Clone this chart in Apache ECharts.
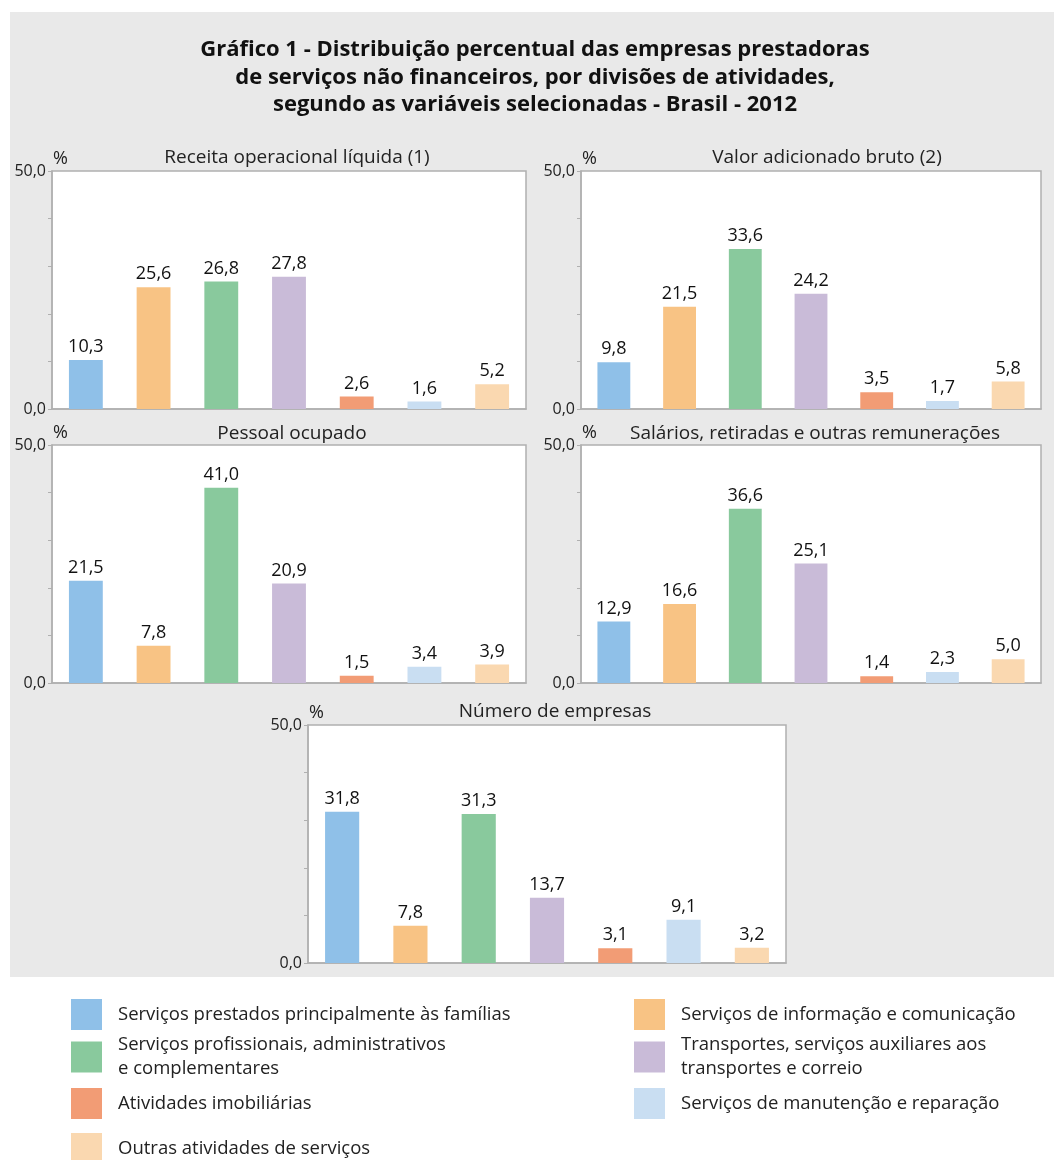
<!DOCTYPE html>
<html>
<head>
    <meta charset="utf-8">
    <title>Gráfico 1</title>
    <script src="https://cdn.jsdelivr.net/npm/echarts@6/dist/echarts.min.js"></script>
    <style>
        body { margin: 0; background: #fff; }
    </style>
</head>
<body>
    <div id="main" style="width:1054px;height:1160px;"></div>
    <script type="text/javascript">
        // categorias (legenda)
        var categorias = [
            'Serviços prestados principalmente às famílias',
            'Serviços de informação e comunicação',
            'Serviços profissionais, administrativos\ne complementares',
            'Transportes, serviços auxiliares aos\ntransportes e correio',
            'Atividades imobiliárias',
            'Serviços de manutenção e reparação',
            'Outras atividades de serviços'
        ];
        var cores = ['#8fc0e8', '#f8c384', '#89c99d', '#c9bbd8', '#f29c75', '#c9def2', '#fad8b0'];

        // valores por painel
        var receita = [10.3, 25.6, 26.8, 27.8, 2.6, 1.6, 5.2];
        var valorAdicionado = [9.8, 21.5, 33.6, 24.2, 3.5, 1.7, 5.8];
        var pessoal = [21.5, 7.8, 41.0, 20.9, 1.5, 3.4, 3.9];
        var salarios = [12.9, 16.6, 36.6, 25.1, 1.4, 2.3, 5.0];
        var empresas = [31.8, 7.8, 31.3, 13.7, 3.1, 9.1, 3.2];

        var paineis = ['Receita operacional líquida (1)', 'Valor adicionado bruto (2)', 'Pessoal ocupado',
            'Salários, retiradas e outras remunerações', 'Número de empresas'];
        var valores = [receita, valorAdicionado, pessoal, salarios, empresas];
        var yTicks = ['0,0', '50,0'];

        // posição de cada painel
        var grids = [
            {left: 52, top: 171, width: 474, height: 238},
            {left: 581, top: 171, width: 460, height: 238},
            {left: 52, top: 445, width: 474, height: 238},
            {left: 581, top: 445, width: 460, height: 238},
            {left: 308, top: 725, width: 478, height: 238}
        ];
        var titulosPos = [[292, 143], [822, 143], [287, 419], [810, 419], [550, 697]];
        var legendaPos = [[71, 999], [634, 999], [71, 1033], [634, 1033], [71, 1088], [634, 1088], [71, 1133]];

        var fonte = '"Open Sans", Roboto, sans-serif';
        var myChart = echarts.init(document.getElementById('main'));

        function fmt(v) {
            return v.toFixed(1).replace('.', ',');
        }

        var titles = [{
            text: 'Gráfico 1 - Distribuição percentual das empresas prestadoras\nde serviços não financeiros, por divisões de atividades,\nsegundo as variáveis selecionadas - Brasil - 2012',
            left: 530, top: 31, textAlign: 'center',
            textStyle: {fontFamily: fonte, fontSize: 22, fontWeight: 'bold', color: '#111', lineHeight: 27.5}
        }];
        var xAxis = [], yAxis = [], series = [], gridList = [];

        for (var g = 0; g < grids.length; g++) {
            gridList.push({
                left: grids[g].left, top: grids[g].top, width: grids[g].width, height: grids[g].height,
                show: true, backgroundColor: '#fff', borderColor: '#b0b0b0', borderWidth: 1.5
            });
            titles.push({
                text: paineis[g], left: titulosPos[g][0], top: titulosPos[g][1], textAlign: 'center',
                textStyle: {fontFamily: fonte, fontSize: 19, fontWeight: 'normal', color: '#222'}
            });
            xAxis.push({
                type: 'category', gridIndex: g, data: [0, 1, 2, 3, 4, 5, 6],
                axisLabel: {show: false}, axisTick: {show: false},
                axisLine: {lineStyle: {color: '#b0b0b0', width: 1.5}}
            });
            yAxis.push({
                type: 'value', gridIndex: g, min: 0, max: 50, interval: 10,
                name: '%', nameLocation: 'end', nameGap: 3,
                nameTextStyle: {fontFamily: fonte, fontSize: 18, color: '#222', align: 'left', padding: [0, 0, 0, 1]},
                splitLine: {show: false},
                axisLine: {show: true, lineStyle: {color: '#b0b0b0', width: 1.5}},
                axisTick: {show: true, length: 4, lineStyle: {color: '#b0b0b0'}},
                axisLabel: {
                    fontFamily: fonte, fontSize: 16, color: '#222', margin: 6,
                    formatter: function (v) {
                        if (v === 0) return yTicks[0];
                        if (v === 50) return yTicks[1];
                        return '';
                    }
                }
            });
            for (var j = 0; j < categorias.length; j++) {
                series.push({
                    name: categorias[j], type: 'bar', xAxisIndex: g, yAxisIndex: g,
                    barWidth: '50%', barGap: '-100%',
                    itemStyle: {color: cores[j]},
                    label: {
                        show: true, position: 'top', distance: 4,
                        fontFamily: fonte, fontSize: 18, color: '#111',
                        formatter: function (p) { return fmt(p.value[1]); }
                    },
                    data: [[j, valores[g][j]]]
                });
            }
        }

        var legends = [];
        for (var k = 0; k < categorias.length; k++) {
            legends.push({
                data: [categorias[k]], left: legendaPos[k][0], top: legendaPos[k][1],
                orient: 'vertical', padding: 0, icon: 'rect', itemWidth: 31, itemHeight: 31,
                selectedMode: false,
                textStyle: {fontFamily: fonte, fontSize: 18.5, color: '#222', lineHeight: 24, padding: [0, 0, 0, 11]}
            });
        }

        myChart.setOption({
            animation: false,
            graphic: [{
                type: 'rect', left: 10, top: 12, z: -10,
                shape: {width: 1044, height: 965},
                style: {fill: '#e9e9e9'}
            }],
            title: titles,
            legend: legends,
            grid: gridList,
            xAxis: xAxis,
            yAxis: yAxis,
            series: series
        });
    </script>
</body>
</html>
